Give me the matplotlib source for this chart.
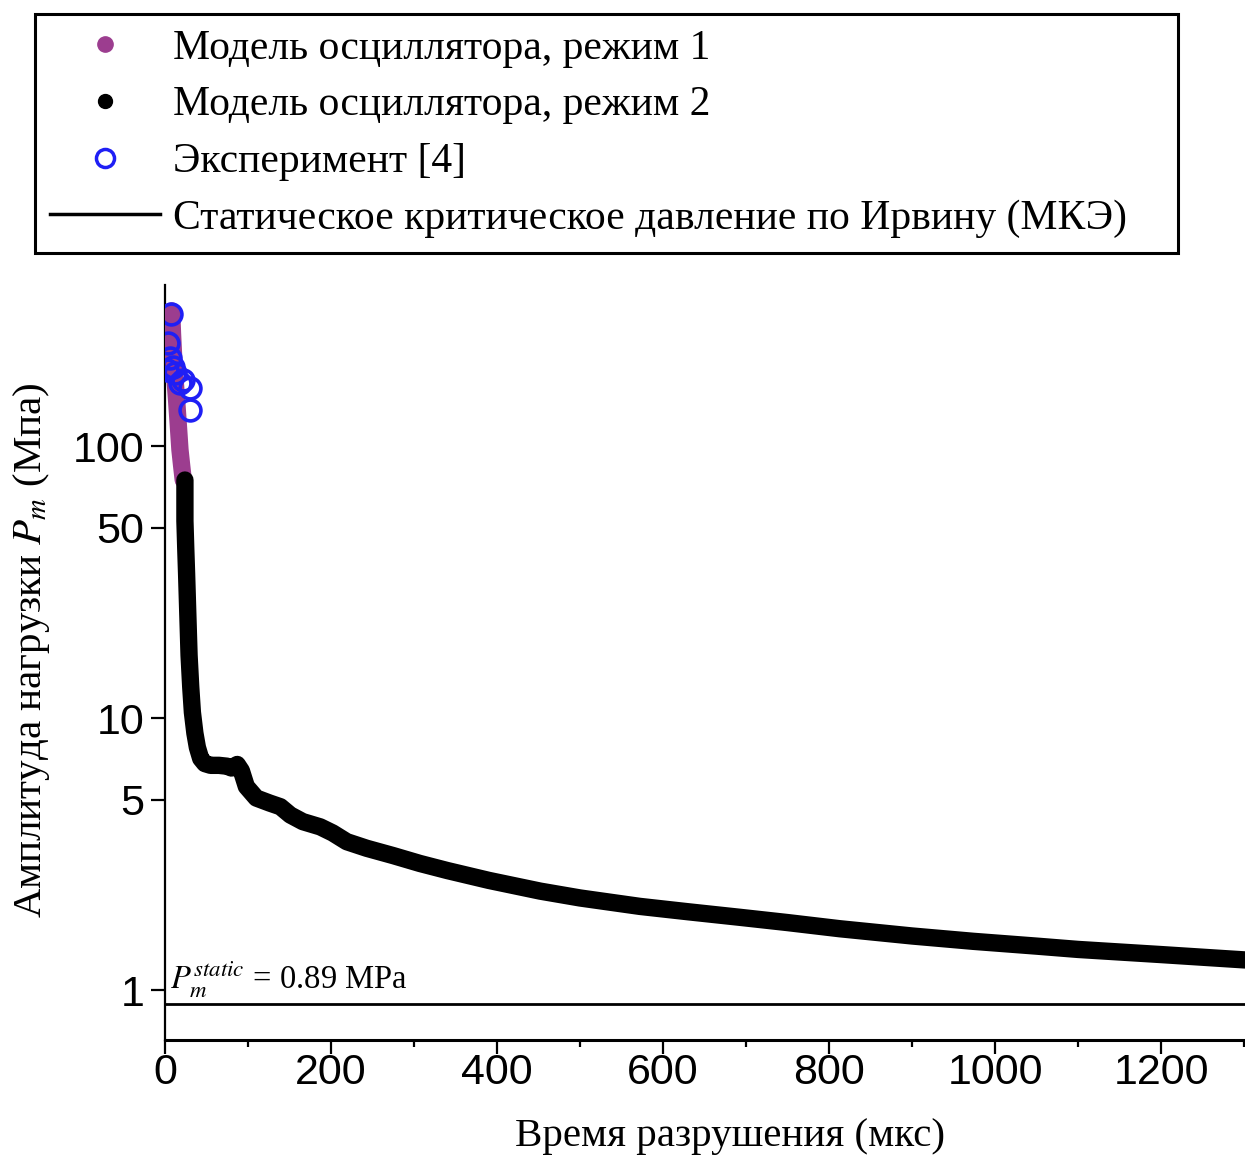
import numpy as np
import matplotlib
matplotlib.use("Agg")
import matplotlib.pyplot as plt
from matplotlib.lines import Line2D
from matplotlib.ticker import FixedLocator, NullLocator, MultipleLocator

plt.rcParams['font.family'] = ['Liberation Serif', 'DejaVu Serif']
plt.rcParams['mathtext.fontset'] = 'stix'

# режим 1 осциллятора (короткие времена)
t_mode1 = [8, 9, 11, 14, 16, 18, 20, 22]
p_mode1 = [314, 260, 195, 147, 120, 97, 85, 75]

# режим 2 осциллятора
t_mode2 = [24, 24, 25, 26, 27.5, 29, 31, 33, 36, 39, 43, 48, 55, 65, 75, 80,
           87, 92, 98, 110, 126, 139, 151, 166, 187, 202, 219, 243, 275, 307,
           340, 390, 452, 500, 572, 630, 693, 750, 813, 900, 974, 1050, 1100,
           1200, 1301]
p_mode2 = [75, 53, 42, 34, 24, 17, 13, 10.5, 8.8, 7.8, 7.1, 6.8, 6.7, 6.7,
           6.65, 6.55, 6.75, 6.4, 5.6, 5.08, 4.87, 4.72, 4.40, 4.16, 3.98,
           3.78, 3.51, 3.32, 3.12, 2.92, 2.75, 2.53, 2.31, 2.18, 2.03, 1.94,
           1.85, 1.77, 1.68, 1.58, 1.51, 1.45, 1.41, 1.35, 1.29]

# эксперимент [4]
t_exp = [7, 4, 6, 2, 12, 22, 30, 30, 18, 10]
p_exp = [307, 239, 211, 190, 185, 175, 163, 136, 171, 195]

p_static = 0.89

purple = '#9c3d8f'
blue = '#1f1ff5'

fig = plt.figure(figsize=(12.45, 11.55), dpi=100)
ax = fig.add_axes([165 / 1245, 115 / 1155, 1080 / 1245, 755 / 1155])

ax.plot(t_mode1, p_mode1, color=purple, lw=12.5, solid_capstyle='round',
        solid_joinstyle='round', zorder=3)
ax.plot(t_mode2, p_mode2, color='black', lw=12.5, solid_capstyle='round',
        solid_joinstyle='round', zorder=3)
ax.plot(t_exp, p_exp, ls='', marker='o', ms=15, mfc='none', mec=blue,
        mew=2.6, zorder=4)
ax.axhline(p_static, color='black', lw=2, zorder=2)
ax.text(6, p_static * 1.03, r'$P_m^{static}$ = 0.89 MPa', fontsize=23.5,
        ha='left', va='bottom')

ax.set_yscale('log')
ax.set_xlim(0, 1301)
ax.set_ylim(0.655, 391)

ax.yaxis.set_major_locator(FixedLocator([1, 5, 10, 50, 100]))
ax.yaxis.set_minor_locator(NullLocator())
ax.set_yticklabels(['1', '5', '10', '50', '100'])
ax.xaxis.set_major_locator(MultipleLocator(200))
ax.xaxis.set_minor_locator(MultipleLocator(100))

ax.spines['top'].set_visible(False)
ax.spines['right'].set_visible(False)
ax.spines['bottom'].set_linewidth(2.2)
ax.spines['left'].set_linewidth(1.6)

ax.tick_params(which='major', direction='out', length=10, width=1.6,
               labelsize=31, labelfontfamily='Liberation Sans')
ax.tick_params(axis='x', which='major', pad=-1)
ax.tick_params(axis='y', which='major', pad=5)
ax.tick_params(axis='x', which='minor', direction='out', length=5, width=1.6)

ax.set_xlabel('Время разрушения (мкс)', fontsize=29.5)
ax.xaxis.set_label_coords((730 - 165) / 1080, -0.103)
ax.set_ylabel(r'Амплитуда нагрузки $P_m$ (Мпа)', fontsize=29.5, va='center')
ax.yaxis.set_label_coords((32 - 165) / 1080, 0.517)

handles = [
    Line2D([], [], ls='', marker='o', ms=11, color=purple),
    Line2D([], [], ls='', marker='o', ms=10, color='black'),
    Line2D([], [], ls='', marker='o', ms=13, mfc='none', mec=blue, mew=2.5),
    Line2D([], [], color='black', lw=2.5),
]
labels = [
    'Модель осциллятора, режим 1',
    'Модель осциллятора, режим 2',
    'Эксперимент [4]',
    'Статическое критическое давление по Ирвину (МКЭ)',
]
leg = fig.legend(handles, labels, loc='upper left',
                 bbox_to_anchor=(35 / 1245, 1 - 14 / 1155,
                                 (1178 - 35) / 1245, 0.0),
                 mode='expand', borderaxespad=0, fontsize=30,
                 handlelength=2.65, handletextpad=0.3, labelspacing=0.44,
                 borderpad=0.36, fancybox=False, framealpha=1,
                 edgecolor='black')
leg.get_frame().set_linewidth(2.2)

fig.savefig('out.png', dpi=100)
